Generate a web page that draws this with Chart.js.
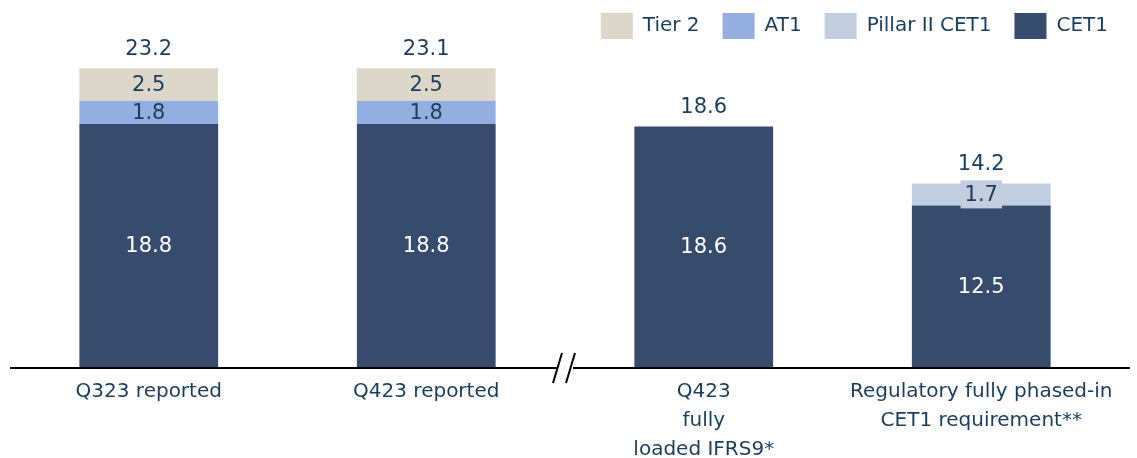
<!DOCTYPE html>
<html lang="en">
<head>
    <meta charset="UTF-8">
    <title>Capital ratios</title>
    <script src="https://cdn.jsdelivr.net/npm/chart.js"></script>
    <style>
        html, body {
            margin: 0;
            padding: 0;
            background: #ffffff;
        }
        .wrap {
            width: 1137px;
            height: 458px;
            position: relative;
        }
    </style>
</head>
<body>
    <div class="wrap">
        <canvas id="capitalChart"></canvas>
    </div>

    <script>
        // Data
        const categories = [
            'Q323 reported',
            'Q423 reported',
            ['Q423', 'fully', 'loaded IFRS9*'],
            ['Regulatory fully phased-in', 'CET1 requirement**']
        ];
        const cet1 = [18.8, 18.8, 18.6, 12.5];
        const pillar2 = [null, null, null, 1.7];
        const at1 = [1.8, 1.8, null, null];
        const tier2 = [2.5, 2.5, null, null];
        const totals = ['23.2', '23.1', '18.6', '14.2'];

        const textColor = '#1b3d5c';
        const fontFamily = '"DejaVu Sans", sans-serif';
        const pxPerUnit = 12.93;
        const xAxisHeight = 91;

        // keep the same pixels-per-unit as the original, whatever the legend height
        const scalePlugin = {
            id: 'fixedScale',
            afterLayout(chart) {
                const y = chart.scales.y;
                y.min = 0;
                y.max = (y.bottom - y.top) / pxPerUnit;
                y.configure();
                // legend sits a bit further right than the plot area
                chart.legend.left += 11;
                chart.legend.right += 11;
            }
        };

        // value labels inside segments + totals above
        const labelPlugin = {
            id: 'valueLabels',
            afterDatasetsDraw(chart) {
                const ctx = chart.ctx;
                ctx.save();
                ctx.font = '21px ' + fontFamily;
                ctx.textAlign = 'center';
                ctx.textBaseline = 'middle';
                chart.data.datasets.forEach((ds, di) => {
                    const meta = chart.getDatasetMeta(di);
                    meta.data.forEach((bar, i) => {
                        const v = ds.data[i];
                        if (v == null) return;
                        const txt = v.toFixed(1);
                        const cy = (bar.y + bar.base) / 2;
                        const w = ctx.measureText(txt).width;
                        const bh = ds.labelBoxHeight || 22;
                        ctx.fillStyle = ds.backgroundColor;
                        ctx.fillRect(bar.x - w / 2 - 4, cy - bh / 2, w + 8, bh);
                        ctx.fillStyle = ds.labelColor;
                        ctx.fillText(txt, bar.x, cy + 1);
                    });
                });
                // totals
                const x = chart.scales.x;
                const y = chart.scales.y;
                ctx.fillStyle = textColor;
                totals.forEach((t, i) => {
                    let sum = 0;
                    [cet1, pillar2, at1, tier2].forEach(a => { sum += a[i] || 0; });
                    ctx.fillText(t, x.getPixelForValue(i), y.getPixelForValue(sum) - 19);
                });
                ctx.restore();
            }
        };

        // baseline with axis break
        const axisPlugin = {
            id: 'axisBreak',
            afterDraw(chart) {
                const ctx = chart.ctx;
                const yb = chart.chartArea.bottom + 1;
                ctx.save();
                ctx.strokeStyle = '#000000';
                ctx.lineWidth = 2;
                ctx.beginPath();
                ctx.moveTo(10, yb);
                ctx.lineTo(557, yb);
                ctx.moveTo(573, yb);
                ctx.lineTo(1130, yb);
                ctx.stroke();
                ctx.beginPath();
                ctx.moveTo(553, yb + 15);
                ctx.lineTo(562, yb - 15);
                ctx.moveTo(566, yb + 15);
                ctx.lineTo(575, yb - 15);
                ctx.stroke();
                ctx.restore();
            }
        };

        new Chart(document.getElementById('capitalChart'), {
            type: 'bar',
            data: {
                labels: categories,
                datasets: [
                    { label: 'CET1', data: cet1, backgroundColor: '#374c6c', labelColor: '#ffffff', order: 1 },
                    { label: 'Pillar II CET1', data: pillar2, backgroundColor: '#c3cde0', labelColor: textColor, labelBoxHeight: 28, order: 2 },
                    { label: 'AT1', data: at1, backgroundColor: '#94aee0', labelColor: textColor, order: 3 },
                    { label: 'Tier 2', data: tier2, backgroundColor: '#ddd7ca', labelColor: textColor, order: 4 }
                ]
            },
            options: {
                responsive: true,
                maintainAspectRatio: false,
                animation: false,
                layout: { padding: { left: 10, right: 17, top: -10, bottom: 0 } },
                datasets: {
                    bar: { categoryPercentage: 1.0, barPercentage: 0.5 }
                },
                plugins: {
                    legend: {
                        position: 'top',
                        align: 'end',
                        reverse: true,
                        labels: {
                            boxWidth: 32,
                            boxHeight: 26,
                            padding: 23,
                            color: textColor,
                            font: { family: fontFamily, size: 20 }
                        }
                    },
                    tooltip: { enabled: false }
                },
                scales: {
                    x: {
                        stacked: true,
                        grid: { display: false },
                        border: { display: false },
                        ticks: {
                            color: textColor,
                            padding: 2,
                            maxRotation: 0,
                            autoSkip: false,
                            font: { family: fontFamily, size: 20, lineHeight: 1.45 }
                        },
                        afterFit(s) { s.height = xAxisHeight; }
                    },
                    y: {
                        stacked: true,
                        display: false
                    }
                }
            },
            plugins: [scalePlugin, labelPlugin, axisPlugin]
        });
    </script>
</body>
</html>
